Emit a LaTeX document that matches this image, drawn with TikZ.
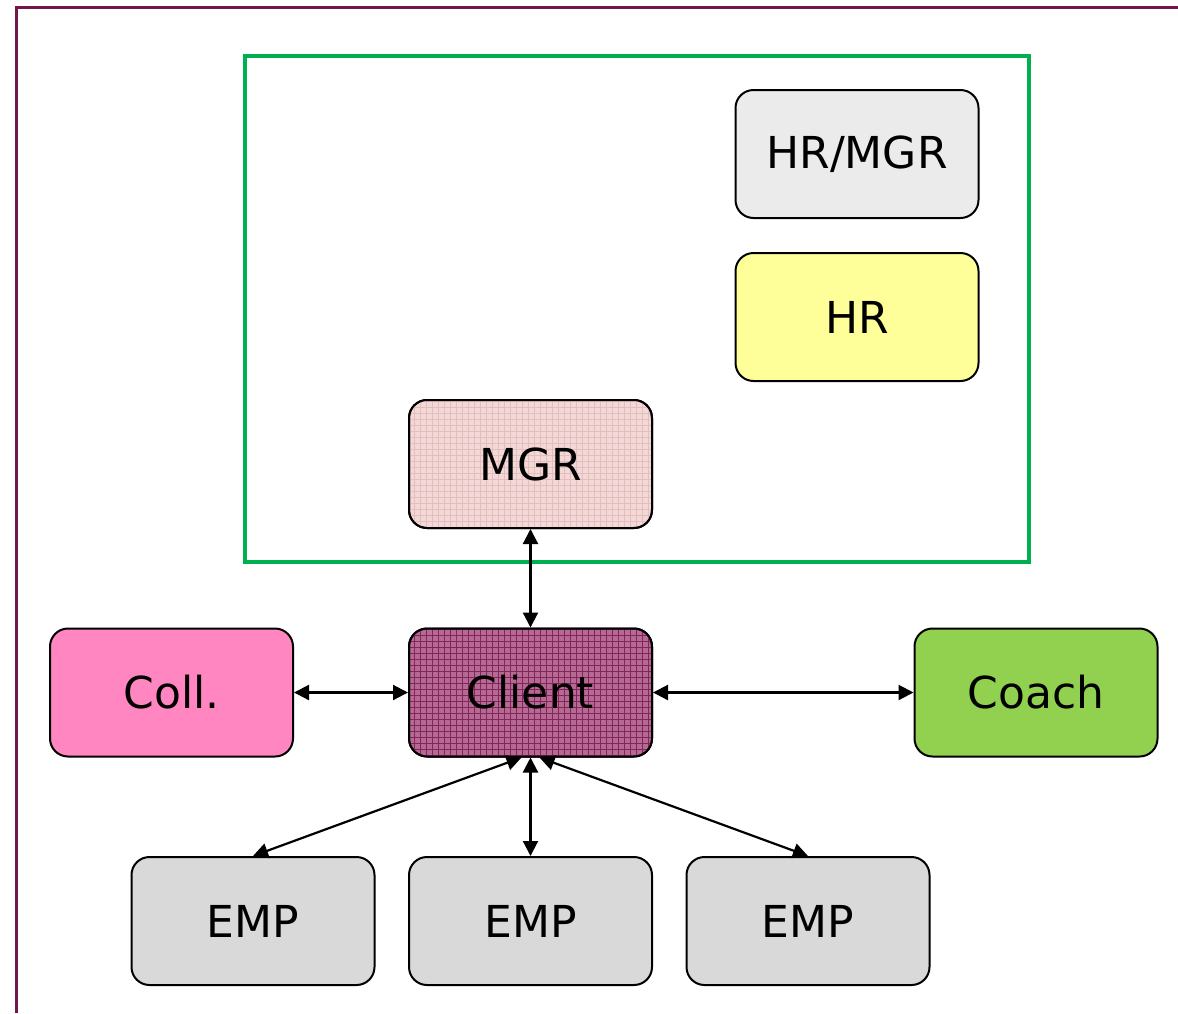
\documentclass[tikz,border=0pt]{standalone}
\usepackage{fontspec}
\setmainfont{DejaVu Sans}
\usetikzlibrary{arrows.meta,patterns}
\definecolor{framec}{HTML}{75164A}
\definecolor{greenc}{HTML}{00B050}
\definecolor{hrmgrc}{HTML}{EBEBEB}
\definecolor{hrc}{HTML}{FFFF99}
\definecolor{mgrc}{HTML}{F2D9D8}
\definecolor{mgrcgrid}{HTML}{E6BDBD}
\definecolor{clientc}{HTML}{B56A94}
\definecolor{clientcgrid}{HTML}{85245A}
\definecolor{collc}{HTML}{FF86C1}
\definecolor{coachc}{HTML}{92D050}
\definecolor{empc}{HTML}{D9D9D9}
\tikzset{
  box/.style={draw=black, line width=1pt, rounded corners=9pt,
    minimum width=121.5pt, minimum height=64pt, inner sep=0pt,
    font=\fontsize{22pt}{26pt}\selectfont},
  gridbox/.style={box, fill=#1, postaction={pattern=grid, pattern color=#1grid},
    postaction={draw=black, line width=1pt, rounded corners=9pt}},
  conn/.style={line width=1.1pt, {Triangle[length=7.5pt,width=7.5pt]}-{Triangle[length=7.5pt,width=7.5pt]}},
}
\begin{document}
\begin{tikzpicture}[x=0.5pt,y=-0.5pt]
\useasboundingbox (0,0) rectangle (1178,1013);
% frame
\draw[framec, line width=1.1pt] (16.5,1013) -- (16.5,7.5) -- (1178,7.5);
% green group
\draw[greenc, line width=2pt] (245,56) rectangle (1029,562);
% nodes
\node[box, fill=hrmgrc] (hrmgr) at (857,154) {HR/MGR};
\node[box, fill=hrc] (hr) at (857,317) {HR};
\node[gridbox=mgrc] (mgr) at (530.5,464) {};
\node (mgrt) at (mgr) [font=\fontsize{22pt}{26pt}\selectfont] {MGR};
\node[box, fill=collc] (coll) at (171.5,692.5) {Coll.};
\node[gridbox=clientc] (client) at (530.5,692.5) {};
\node (clientt) at (client) [font=\fontsize{22pt}{26pt}\selectfont] {Client};
\node[box, fill=coachc] (coach) at (1036,692.5) {Coach};
\node[box, fill=empc] (emp1) at (253,921) {EMP};
\node[box, fill=empc] (emp2) at (530.5,921) {EMP};
\node[box, fill=empc] (emp3) at (808,921) {EMP};
% connectors
\draw[conn] (mgr.south) -- (client.north);
\draw[conn] (coll.east) -- (client.west);
\draw[conn] (client.east) -- (coach.west);
\draw[conn] ([xshift=-4.5pt]client.south) -- (emp1.north);
\draw[conn] (client.south) -- (emp2.north);
\draw[conn] ([xshift=4.5pt]client.south) -- (emp3.north);
\end{tikzpicture}
\end{document}
